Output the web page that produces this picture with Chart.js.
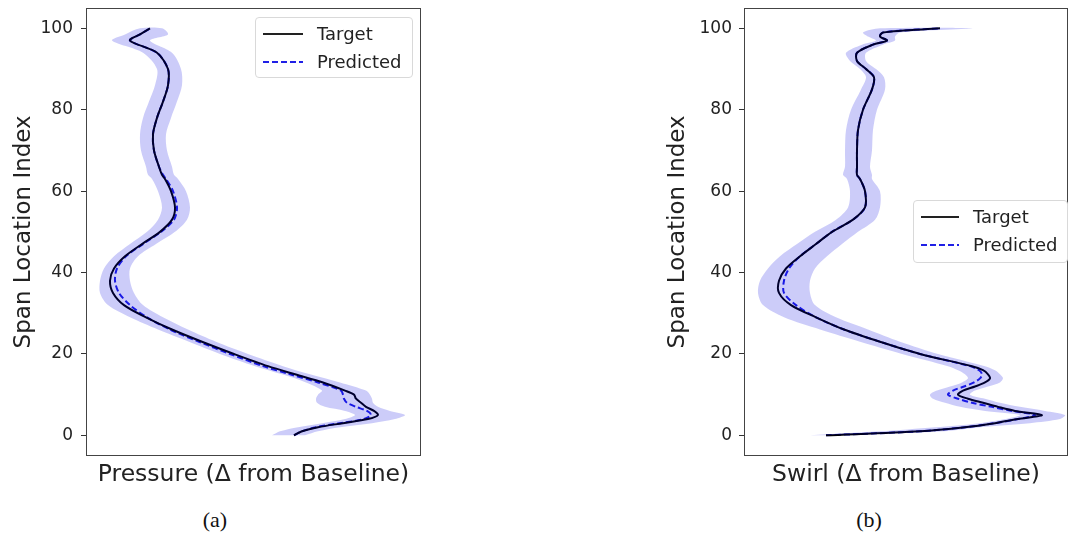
<!DOCTYPE html>
<html>
<head>
<meta charset="utf-8">
<script src="https://cdn.jsdelivr.net/npm/chart.js@4.4.1/dist/chart.umd.min.js"></script>
<style>
  body { margin: 0; background: #fff; width: 1070px; height: 535px; position: relative; overflow: hidden;
         font-family: "DejaVu Sans", sans-serif; color: #222; }
  .panel { position: absolute; top: 0; height: 500px; }
  .legend { position: absolute; border: 1px solid #d9d9d9; border-radius: 4px; background: rgba(255,255,255,0.85);
            box-sizing: border-box; }
  .legend svg { position: absolute; left: 0; top: 0; }
  .legend span { position: absolute; font-size: 18px; line-height: 24px; white-space: nowrap; color: #222; }
  .caption { position: absolute; top: 507px; width: 80px; text-align: center; color: #111;
             font-family: "Liberation Serif", "Times New Roman", serif; font-size: 22px; line-height: 26px; }
</style>
</head>
<body>
<div class="panel" style="left:0;width:430px"><canvas id="pressure" width="430" height="500"></canvas></div>
<div class="panel" style="left:650px;width:420px"><canvas id="swirl" width="420" height="500"></canvas></div>

<div class="legend" style="left:255px;top:17px;width:158px;height:61px">
  <svg width="158" height="61">
    <line x1="7" y1="16" x2="47" y2="16" stroke="#222" stroke-width="2"/>
    <line x1="7" y1="44" x2="47" y2="44" stroke="#2020e6" stroke-width="2" stroke-dasharray="6,3"/>
  </svg>
  <span style="left:61px;top:4px">Target</span>
  <span style="left:61px;top:32px">Predicted</span>
</div>
<div class="legend" style="left:913px;top:200px;width:155px;height:63px">
  <svg width="155" height="63">
    <line x1="7" y1="16" x2="45" y2="16" stroke="#222" stroke-width="2"/>
    <line x1="7" y1="44" x2="45" y2="44" stroke="#2020e6" stroke-width="2" stroke-dasharray="6,3"/>
  </svg>
  <span style="left:59px;top:4px">Target</span>
  <span style="left:59px;top:32px">Predicted</span>
</div>

<div class="caption" style="left:175px">(a)</div>
<div class="caption" style="left:829px">(b)</div>

<script>
// Span positions (0 = hub, 100 = tip) and tick labels
const spanTicks = [0, 20, 40, 60, 80, 100];

// Pressure profile (Δ from baseline, arbitrary units)
const spanP = [0,1,2,3,4,5,6,7,8,9,10,11,13,15,17,20,23,26,29,32,35,38,41,44,47,50,53,56,60,63,64,66,70,74,78,82,86,90,94,97,98.5,100];
const pressureTarget = [208,216,232,257,282,292,288,280,275,270,268,259,237,209,182,148,116,86,60,38,27,24,28,39,56,74,86,89,85,79,76,73,68,67,71,77,82,82,71,44,54,64];
const pressurePredicted = [208,216,230,254,278,285,281,270,261,258,257,255,232,204,177,144,113,84,61,44,33,29,31,40,57,75,88,91,87,80,77,73,68,67,71,77,82,82,71,44,54,64];
const pressureBandLow = [186,194,212,236,259,269,259,239,231,230,232,236,220,196,169,134,103,72,44,22,14,14,18,28,44,61,72,76,72,66,62,60,55,54,57,63,69,71,57,26,39,54];
const pressureBandHigh = [219,232,254,286,309,319,304,292,287,286,284,280,254,224,197,162,130,102,77,57,48,44,44,52,70,89,101,104,100,92,88,86,81,80,85,91,96,95,86,64,82,76];

// Swirl profile (Δ from baseline, arbitrary units)
const spanS = [0,1,2,3,4,5,6,7,8,9,10,11,12,13,14,15,16,17,20,23,26,29,32,35,38,41,44,47,50,53,56,60,63,64,66,70,75,80,85,88,90,92,94,96,97,98,99,100];
const swirlTarget = [82,176,221,251,274,298,271,254,239,224,214,219,231,241,246,244,239,228,176,136,100,72,47,35,35,42,56,72,88,109,121,121,116,113,113,113,114,119,128,130,122,113,113,129,143,136,139,196];
const swirlPredicted = [82,176,221,251,274,291,268,248,228,214,204,209,220,230,236,238,235,226,176,136,100,72,52,40,40,45,56,72,88,109,121,121,116,113,113,113,114,119,128,130,122,113,113,129,143,136,139,196];
const swirlBandLow = [66,136,191,236,261,276,241,216,201,189,186,193,206,218,224,221,214,204,158,116,76,40,19,14,16,24,36,53,71,92,104,106,103,99,101,101,102,107,117,122,116,106,102,118,132,124,119,136];
const swirlBandHigh = [91,200,236,286,316,321,301,276,256,241,226,231,244,256,259,256,251,241,194,156,124,92,71,66,66,71,83,98,114,131,136,136,128,128,126,128,129,133,141,140,132,122,122,139,151,151,156,229];

const FONT = "'DejaVu Sans', sans-serif";

// Box around the plotting area
const framePlugin = {
  id: 'frame',
  afterDraw(chart) {
    const { ctx, chartArea: a } = chart;
    ctx.save();
    ctx.strokeStyle = '#444';
    ctx.lineWidth = 1;
    ctx.strokeRect(Math.round(a.left) + 0.5, Math.round(a.top) + 0.5,
                   Math.round(a.right - a.left) - 1, Math.round(a.bottom - a.top) - 1);
    ctx.restore();
  }
};

function toPoints(xs, ys) { return xs.map((v, i) => ({ x: v, y: ys[i] })); }

function makePanel(id, spans, target, predicted, low, high, cfg) {
  // closed outline of the spread band: low edge upward, high edge back down
  const band = toPoints(low, spans).concat(toPoints(high, spans).reverse());
  new Chart(document.getElementById(id), {
    type: 'line',
    data: {
      datasets: [
        { label: 'spread', data: band, fill: 'shape', backgroundColor: 'rgba(0,0,225,0.2)',
          borderWidth: 0, pointRadius: 0, tension: 0.3 },
        { label: 'Target', data: toPoints(target, spans), borderColor: '#000', borderWidth: 2,
          pointRadius: 0, tension: 0.3, fill: false },
        { label: 'Predicted', data: toPoints(predicted, spans), borderColor: '#2020e6', borderWidth: 2,
          borderDash: [6, 3], pointRadius: 0, tension: 0.3, fill: false }
      ]
    },
    options: {
      responsive: false,
      animation: false,
      devicePixelRatio: 1,
      layout: { padding: { top: 8, right: cfg.padRight, left: 0, bottom: 0 } },
      plugins: { legend: { display: false }, tooltip: { enabled: false } },
      scales: {
        x: {
          type: 'linear', min: 0, max: cfg.xMax,
          ticks: { display: false },
          grid: { display: false },
          border: { display: false },
          title: { display: true, text: cfg.xTitle, color: '#222',
                   font: { family: FONT, size: 23.5 }, padding: { top: 0, bottom: 11 } },
          afterFit(s) { s.height = 44.3; s.paddingLeft = 0; s.paddingRight = 0; }
        },
        y: {
          type: 'linear', min: -5, max: 105,
          afterBuildTicks(s) { s.ticks = spanTicks.map(v => ({ value: v })); },
          ticks: { color: '#222', font: { family: FONT, size: 17 }, padding: cfg.tickPad },
          grid: { drawOnChartArea: false, drawTicks: true, tickLength: 5, tickColor: '#333' },
          border: { display: false },
          title: { display: true, text: 'Span Location Index', color: '#222',
                   font: { family: FONT, size: 23 }, padding: { top: cfg.yTitlePad, bottom: 0 } },
          afterFit(s) { s.width = cfg.yWidth; s.paddingTop = 0; s.paddingBottom = 0; }
        }
      }
    },
    plugins: [framePlugin]
  });
}

makePanel('pressure', spanP, pressureTarget, pressurePredicted, pressureBandLow, pressureBandHigh,
  { xTitle: 'Pressure (Δ from Baseline)', xMax: 335, yWidth: 86, padRight: 9, yTitlePad: 10, tickPad: 8 });
makePanel('swirl', spanS, swirlTarget, swirlPredicted, swirlBandLow, swirlBandHigh,
  { xTitle: 'Swirl (Δ from Baseline)', xMax: 324, yWidth: 94, padRight: 2, yTitlePad: 14, tickPad: 7 });
</script>
</body>
</html>
